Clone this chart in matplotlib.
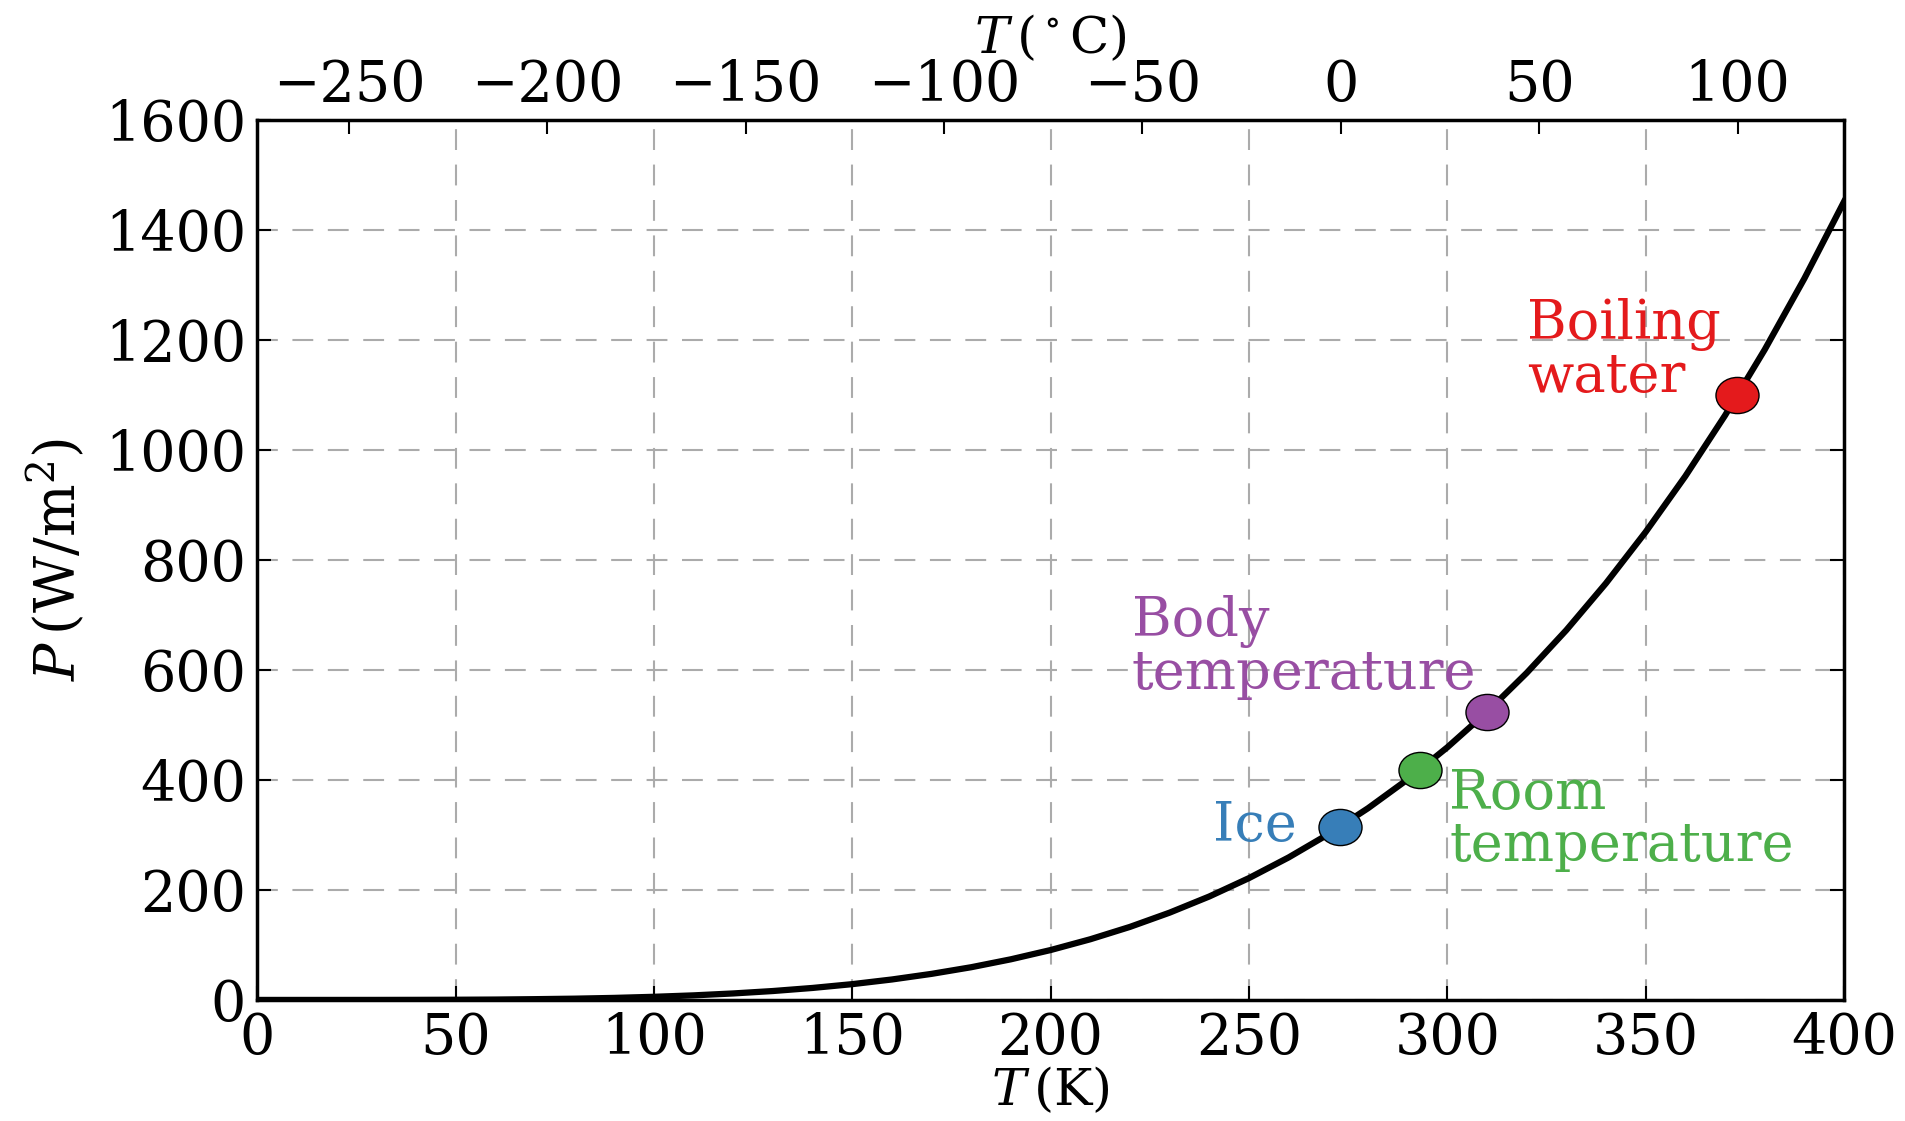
import matplotlib
matplotlib.use("Agg")
import matplotlib.pyplot as plt
from matplotlib.path import Path
import numpy as np

plt.rcParams['font.family'] = ['DejaVu Serif']
plt.rcParams['mathtext.fontset'] = 'dejavuserif'

# Radiated power, every 10 K
temp_k = [0, 10, 20, 30, 40, 50, 60, 70, 80, 90, 100, 110, 120, 130, 140,
          150, 160, 170, 180, 190, 200, 210, 220, 230, 240, 250, 260, 270,
          280, 290, 300, 310, 320, 330, 340, 350, 360, 370, 380, 390, 400]
power = [0, 0.0006, 0.009, 0.05, 0.15, 0.35, 0.7, 1.4, 2.3, 3.7, 5.7, 8.3,
         11.8, 16.2, 21.8, 28.7, 37.2, 47.4, 59.5, 73.9, 90.7, 110.3, 132.8,
         158.7, 188.1, 221.5, 259.1, 301.3, 348.5, 401.0, 459.3, 523.6, 594.5,
         672.4, 757.7, 850.9, 952.3, 1062.7, 1182.3, 1311.7, 1451.5]

# marked points
pt_names = ['Ice', 'Room\ntemperature', 'Body\ntemperature', 'Boiling\nwater']
pt_temp = [273, 293, 310, 373]
pt_power = [315, 418, 524, 1100]
pt_colors = ['#377eb8', '#4daf4a', '#984ea3', '#e41a1c']

celsius_ticks = [-250, -200, -150, -100, -50, 0, 50, 100]

# slightly wide dots, like the reference
circ = Path.unit_circle()
ellipse = Path(circ.vertices * np.array([1.0, 0.84]), circ.codes)

fig = plt.figure(figsize=(19.05, 11.21), dpi=100)
ax = fig.add_axes([0.135, 0.108, 0.833, 0.785])

ax.plot(temp_k, power, color='black', lw=4.5, zorder=3)
for t, p, c in zip(pt_temp, pt_power, pt_colors):
    ax.plot(t, p, marker=ellipse, ms=31, color=c, mec='black', mew=1, zorder=4)

fs_note = 39
ax.text(262, 316, pt_names[0], color=pt_colors[0], fontsize=fs_note, ha='right', va='center')
ax.text(300.5, 232, pt_names[1], color=pt_colors[1], fontsize=fs_note, ha='left', va='bottom', linespacing=1.0)
ax.text(220.5, 545, pt_names[2], color=pt_colors[2], fontsize=fs_note, ha='left', va='bottom', linespacing=1.0)
ax.text(320, 1085, pt_names[3], color=pt_colors[3], fontsize=fs_note, ha='left', va='bottom', linespacing=1.0)

ax.set_xlim(0, 400)
ax.set_ylim(0, 1600)
ax.set_xticks(np.arange(0, 401, 50))
ax.set_yticks(np.arange(0, 1601, 200))
ax.grid(True, color='#ababab', ls=(0, (10, 7)), lw=1.5)
ax.tick_params(direction='in', top=False, right=True, labelsize=40, length=10, width=1.5, pad=8)
for s in ax.spines.values():
    s.set_linewidth(2.5)

ax.set_xlabel(r'$T\,(\mathrm{K})$', fontsize=37, labelpad=0)
ax.set_ylabel(r'$P\,(\mathrm{W/m^2})$', fontsize=40, labelpad=12)

top = ax.secondary_xaxis('top', functions=(lambda k: k - 273.15, lambda c: c + 273.15))
top.set_xticks(celsius_ticks)
top.tick_params(direction='in', labelsize=40, length=10, width=1.5, pad=5)
top.set_xlabel(r'$T\,(^\circ\mathrm{C})$', fontsize=37, labelpad=4)

fig.savefig('out.png', dpi=100)
